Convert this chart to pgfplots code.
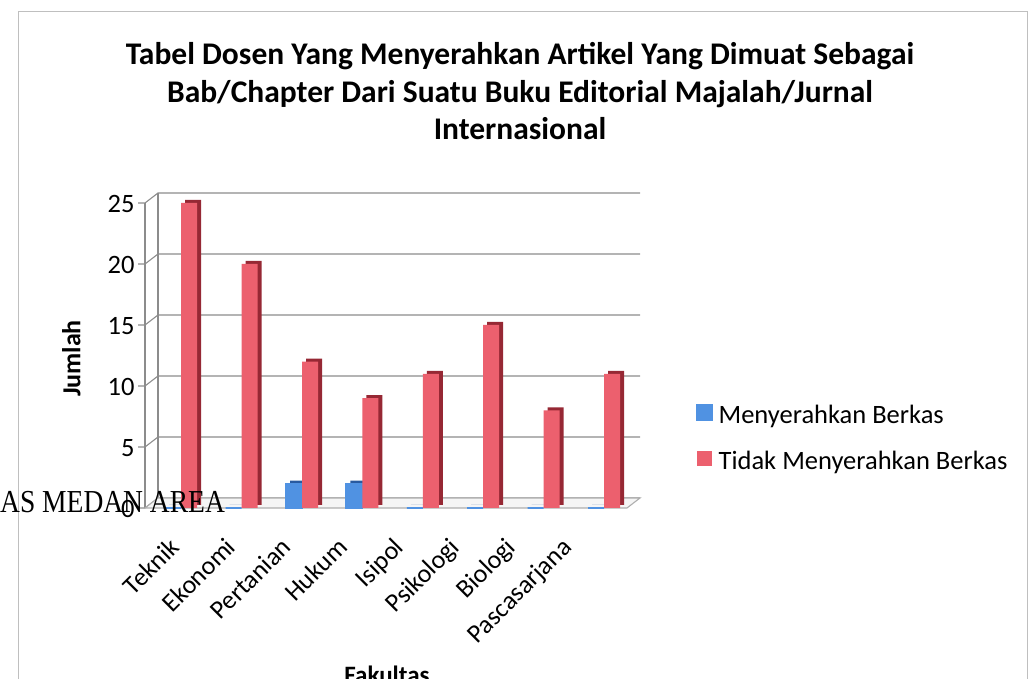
\documentclass[border=0pt]{standalone}
\usepackage{pgfplots}
\pgfplotsset{compat=1.18}
\usepackage{fontspec}
\setmainfont{Carlito}
\newfontfamily\seriffont{Liberation Serif}
\definecolor{cblue}{RGB}{80,146,226}
\definecolor{cbluedark}{RGB}{40,90,160}
\definecolor{cred}{RGB}{236,96,110}
\definecolor{creddark}{RGB}{150,40,52}
\definecolor{gridgray}{RGB}{140,140,140}
\begin{document}
\begin{tikzpicture}
\path[use as bounding box] (0,0) rectangle (1031pt,679pt);
\draw[gray!50, line width=1pt] (18pt,-10pt) -- (18pt,667pt) -- (1027pt,667pt) -- (1027pt,-10pt);
\begin{scope}[every node/.style={font=\bfseries\fontsize{31.5}{38}\selectfont, anchor=base, inner sep=0pt}]
\node at (520pt,614pt) {Tabel Dosen Yang Menyerahkan Artikel Yang Dimuat Sebagai};
\node at (520pt,576pt) {Bab/Chapter Dari Suatu Buku Editorial Majalah/Jurnal};
\node at (520pt,539pt) {Internasional};
\end{scope}
\begin{axis}[
  at={(145pt,171pt)}, anchor=south west,
  scale only axis, width=482pt, height=305pt,
  xmin=-0.6, xmax=7.38, ymin=0, ymax=25,
  ybar, bar width=16pt,
  xtick={-0.05,0.877,1.80,2.73,3.66,4.58,5.51,6.44},
  xticklabels={Teknik,Ekonomi,Pertanian,Hukum,Isipol,Psikologi,Biologi,Pascasarjana},
  xticklabel style={font=\fontsize{26}{30}\selectfont, inner sep=0pt, anchor=north east, xshift=-10pt, yshift=-28pt, rotate=45},
  ytick={0,5,10,15,20,25},
  yticklabel style={font=\fontsize{26.5}{30}\selectfont, xshift=-7pt, yshift=-1pt},
  /pgf/number format/assume math mode=true,
  axis line style={draw=none},
  major tick length=0pt,
  ytick style={draw=none}, xtick style={draw=none},
  ylabel={\textbf{Jumlah}}, ylabel style={font=\fontsize{26}{30}\selectfont, at={(-0.153,0.49)}, anchor=center},
  xlabel={\textbf{Fakultas}}, xlabel style={font=\fontsize{25}{30}\selectfont, at={(0.502,-0.574)}, anchor=base},
  legend style={at={(1.142,0.226)}, anchor=west, draw=none, fill=none,
    font=\fontsize{26.5}{30}\selectfont, row sep=20pt, column sep=5pt, inner sep=0pt,
    nodes={inner sep=1pt, text height=19pt, text depth=5pt}},
  legend cell align=left,
  legend image code/.code={\fill[#1] (0pt,-4pt) rectangle (15pt,11pt);},
  clip=false,
]
% back wall, grid, ticks and floor
\pgfplotsinvokeforeach{0,5,10,15,20,25}{
  \draw[gridgray, line width=1.1pt] ([xshift=-7pt]axis cs:-0.6,#1) -- (axis cs:-0.6,#1) -- ([xshift=13pt,yshift=10pt]axis cs:-0.6,#1) -- ([xshift=13pt,yshift=10pt]axis cs:7.38,#1);
}
\draw[gridgray, line width=1.1pt] (axis cs:-0.6,0) -- (axis cs:-0.6,25);
\draw[gridgray, line width=1.1pt] ([xshift=13pt,yshift=10pt]axis cs:-0.6,0) -- ([xshift=13pt,yshift=10pt]axis cs:-0.6,25);
\draw[gridgray!70, line width=1.1pt, fill=gray!8] (axis cs:-0.6,0) -- (axis cs:7.38,0) -- ([xshift=13pt,yshift=10pt]axis cs:7.38,0) -- ([xshift=13pt,yshift=10pt]axis cs:-0.6,0) -- cycle;
\addplot[fill=cbluedark, draw=none, bar shift=-4pt, yshift=3pt, forget plot]
  coordinates {(0,0) (1,0) (2,2) (3,2) (4,0) (5,0) (6,0) (7,0)};
\addplot[fill=creddark, draw=none, bar shift=12pt, yshift=3pt, forget plot]
  coordinates {(0,25) (1,20) (2,12) (3,9) (4,11) (5,15) (6,8) (7,11)};
\addplot[fill=cblue, draw=cblue, line width=2pt, bar shift=-8pt]
  coordinates {(0,0) (1,0) (2,2) (3,2) (4,0) (5,0) (6,0) (7,0)};
\addplot[fill=cred, draw=none, bar shift=8pt]
  coordinates {(0,25) (1,20) (2,12) (3,9) (4,11) (5,15) (6,8) (7,11)};
\legend{Menyerahkan Berkas, Tidak Menyerahkan Berkas}
\end{axis}
\node[font=\seriffont\fontsize{32}{36}\selectfont, anchor=base west, inner sep=0pt, xscale=0.86] at (0pt,166pt) {AS MEDAN AREA};
\end{tikzpicture}
\end{document}
